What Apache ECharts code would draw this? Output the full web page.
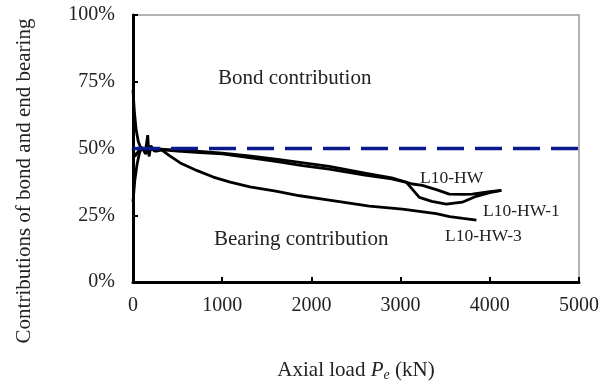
<!DOCTYPE html>
<html>
<head>
<meta charset="utf-8">
<script src="https://cdn.jsdelivr.net/npm/echarts@6/dist/echarts.min.js"></script>
<style>
  html, body { margin: 0; padding: 0; background: #fff; }
  #chart { width: 610px; height: 387px; }
</style>
</head>
<body>
<div id="chart"></div>
<script>
// axial load (kN) and bond share (%)
const hwLoad = [0, 15, 35, 60, 90, 130, 200, 260, 300, 500, 750, 1000, 1300, 1600, 1870, 2200, 2600, 2900, 3132, 3244, 3400, 3546, 3700, 3803, 4000, 4130];
const hwRatio = [72, 64, 57, 52.5, 50, 49.5, 50.5, 49.5, 49.8, 49.4, 48.9, 48.3, 47.2, 46, 44.8, 43.3, 40.8, 39.0, 36.7, 36.2, 34.6, 32.9, 32.8, 32.9, 33.8, 34.3];

const hw1Load = [0, 20, 45, 70, 100, 140, 200, 260, 330, 500, 750, 1000, 1300, 1600, 1900, 2200, 2600, 2900, 3065, 3210, 3350, 3512, 3691, 3848, 4000, 4130];
const hw1Ratio = [30, 38, 44, 48, 50.5, 48, 50, 49, 49.5, 49, 48.5, 48, 46.6, 45.2, 43.6, 42.3, 40.0, 38.6, 37.3, 31.7, 30.2, 29.2, 29.9, 32.1, 33.5, 34.3];

const hw3Load = [0, 20, 60, 100, 140, 165, 180, 200, 240, 300, 340, 400, 530, 720, 900, 1090, 1310, 1600, 1870, 2200, 2650, 3020, 3400, 3550, 3700, 3850];
const hw3Ratio = [50, 47, 49, 50, 49, 55, 47, 51, 49, 50, 49, 47.5, 44.6, 41.7, 39.3, 37.4, 35.6, 34, 32.3, 30.7, 28.4, 27.3, 25.6, 24.5, 23.8, 23.2];

const refLoad = [0, 5000];
const refRatio = [50, 50];

const xTicks = [0, 1000, 2000, 3000, 4000, 5000];
const yTicks = [0, 25, 50, 75, 100];

const zip = (a, b) => a.map((v, i) => [v, b[i]]);

const serif = '"Liberation Serif", "DejaVu Serif", serif';
const textColor = '#222';

const chart = echarts.init(document.getElementById('chart'));

const curve = (name, load, ratio) => ({
  name: name,
  type: 'line',
  data: zip(load, ratio),
  showSymbol: false,
  smooth: false,
  lineStyle: { color: '#000', width: 2.8 },
  z: 2
});

chart.setOption({
  animation: false,
  grid: {
    left: 133, right: 31, top: 15, bottom: 101,
    show: true, borderColor: '#9a9a9a', borderWidth: 1.5
  },
  xAxis: {
    type: 'value',
    min: xTicks[0], max: xTicks[xTicks.length - 1], interval: 1000,
    name: '{n|Axial load }{i|P}{s|e}{n| (kN)}',
    nameLocation: 'middle',
    nameGap: 76,
    nameTextStyle: {
      rich: {
        n: { fontFamily: serif, fontSize: 21, color: textColor },
        i: { fontFamily: serif, fontSize: 21, color: textColor, fontStyle: 'italic' },
        s: { fontFamily: serif, fontSize: 14, color: textColor, fontStyle: 'italic', padding: [10, 0, 0, 0] }
      }
    },
    axisLine: { lineStyle: { color: '#000', width: 3 } },
    axisTick: { inside: true, length: 5, lineStyle: { color: '#000', width: 2 } },
    axisLabel: { margin: 14, fontFamily: serif, fontSize: 20, color: textColor, formatter: v => String(v) },
    splitLine: { show: false }
  },
  yAxis: {
    type: 'value',
    min: yTicks[0], max: yTicks[yTicks.length - 1], interval: 25,
    axisLine: { show: true, lineStyle: { color: '#000', width: 3 } },
    axisTick: { show: true, inside: true, length: 5, lineStyle: { color: '#000', width: 2 } },
    axisLabel: { margin: 18, fontFamily: serif, fontSize: 20, color: textColor, formatter: '{value}%' },
    splitLine: { show: false }
  },
  graphic: [
    {
      type: 'text', x: 24, y: 181, rotation: Math.PI / 2,
      style: { text: 'Contributions of bond and end bearing', font: '21px ' + serif, fill: textColor, align: 'center', verticalAlign: 'middle' }
    },
    {
      type: 'text', x: 218, y: 78,
      style: { text: 'Bond contribution', font: '21px ' + serif, fill: textColor, align: 'left', verticalAlign: 'middle' }
    },
    {
      type: 'text', x: 214, y: 239,
      style: { text: 'Bearing contribution', font: '21px ' + serif, fill: textColor, align: 'left', verticalAlign: 'middle' }
    },
    {
      type: 'text', x: 420, y: 178,
      style: { text: 'L10-HW', font: '17.5px ' + serif, fill: textColor, align: 'left', verticalAlign: 'middle' }
    },
    {
      type: 'text', x: 483, y: 211,
      style: { text: 'L10-HW-1', font: '17.5px ' + serif, fill: textColor, align: 'left', verticalAlign: 'middle' }
    },
    {
      type: 'text', x: 445, y: 236,
      style: { text: 'L10-HW-3', font: '17.5px ' + serif, fill: textColor, align: 'left', verticalAlign: 'middle' }
    }
  ],
  series: [
    curve('L10-HW', hwLoad, hwRatio),
    curve('L10-HW-1', hw1Load, hw1Ratio),
    curve('L10-HW-3', hw3Load, hw3Ratio),
    {
      name: '50%',
      type: 'line',
      data: zip(refLoad, refRatio),
      showSymbol: false,
      lineStyle: { color: '#0a1a8c', width: 3.5, type: [27, 11] },
      z: 5
    }
  ]
});
</script>
</body>
</html>
